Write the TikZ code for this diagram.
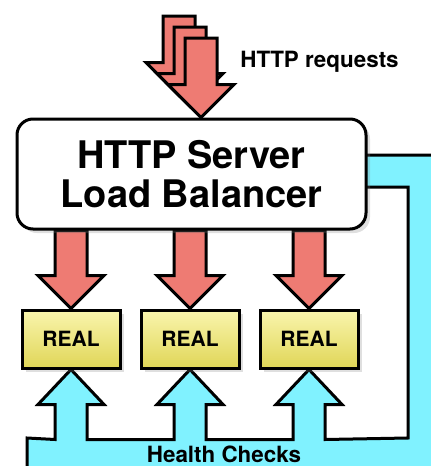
\documentclass[tikz,border=0pt]{standalone}
\usepackage{fontspec}
\setmainfont{TeX Gyre Heros}
\usetikzlibrary{calc,shadows,backgrounds}

\definecolor{reqred}{HTML}{EE7B73}
\definecolor{hccyan}{HTML}{80F2FF}
\definecolor{realtop}{HTML}{F9F5AE}
\definecolor{realbot}{HTML}{E0D657}

\tikzset{
  fatarrow/.style={draw=black, line width=1.5pt, line join=miter, fill=reqred},
  hcpath/.style={draw=black, line width=1.5pt, line join=miter, fill=hccyan},
  softshadow/.style={drop shadow={opacity=0.25, shadow xshift=2pt, shadow yshift=-2pt}},
  realbox/.style={draw, line width=1.5pt, top color=realtop, bottom color=realbot,
    minimum width=49pt, minimum height=29pt, softshadow,
    font=\bfseries\fontsize{10.5}{12}\selectfont},
  smalllabel/.style={font=\bfseries\fontsize{11.2}{13}\selectfont, inner sep=0pt},
}

% fat downward arrow from #2 to the tip #3
\newcommand{\fatdown}[3][]{%
  \path[fatarrow,#1] let \p1=(#2), \p2=(#3) in
    (\x2-8pt,\y1) -- (\x2-8pt,\y2+16.5pt) -- (\x2-16.5pt,\y2+16.5pt) -- (\x2,\y2)
    -- (\x2+16.5pt,\y2+16.5pt) -- (\x2+8pt,\y2+16.5pt) -- (\x2+8pt,\y1) -- cycle;}

\begin{document}
\begin{tikzpicture}[x=0.5pt, y=-0.5pt]
\useasboundingbox (0,0) rectangle (430,466);

\node[draw, line width=1.5pt, rounded corners=8pt, fill=white, softshadow, align=center,
  minimum width=174.5pt, minimum height=55pt,
  font=\bfseries\fontsize{19}{19.5}\selectfont] (lb) at (191.5,174) {HTTP Server\\Load Balancer};

\node[realbox] (r1) at (71,339) {REAL};
\node[realbox] (r2) at (190,339) {REAL};
\node[realbox] (r3) at (309,339) {REAL};

\node[smalllabel, anchor=base west] (req) at (240,67) {HTTP requests};
\node[smalllabel, anchor=base] (hc) at (224,462) {Health Checks};

\coordinate (reqin) at (201,38);

\begin{pgfonlayer}{background}
% health check channel
\path[hcpath] (355,155) -- (445,155) -- (445,480) -- (27,480) -- (27,438)
  \foreach \r in {r1,r2,r3} {
    -- ($(\r.south)+(-16,70)$) -- ($(\r.south)+(-16,35)$) -- ($(\r.south)+(-33,35)$)
    -- (\r.south)
    -- ($(\r.south)+(33,35)$) -- ($(\r.south)+(16,35)$) -- ($(\r.south)+(16,70)$)
  }
  -- (408,438) -- (408,187) -- (355,187) -- cycle;

% incoming requests
\fatdown{$(reqin)+(-22,-22)$}{$(lb.north -| reqin)+(-22,-22)$}
\fatdown{$(reqin)+(-11,-11)$}{$(lb.north -| reqin)+(-11,-11)$}
\fatdown{reqin}{lb.north -| reqin}

% balancer to real servers
\fatdown{lb.south -| r1}{r1.north}
\fatdown{lb.south -| r2}{r2.north}
\fatdown{lb.south -| r3}{r3.north}
\end{pgfonlayer}
\end{tikzpicture}
\end{document}
